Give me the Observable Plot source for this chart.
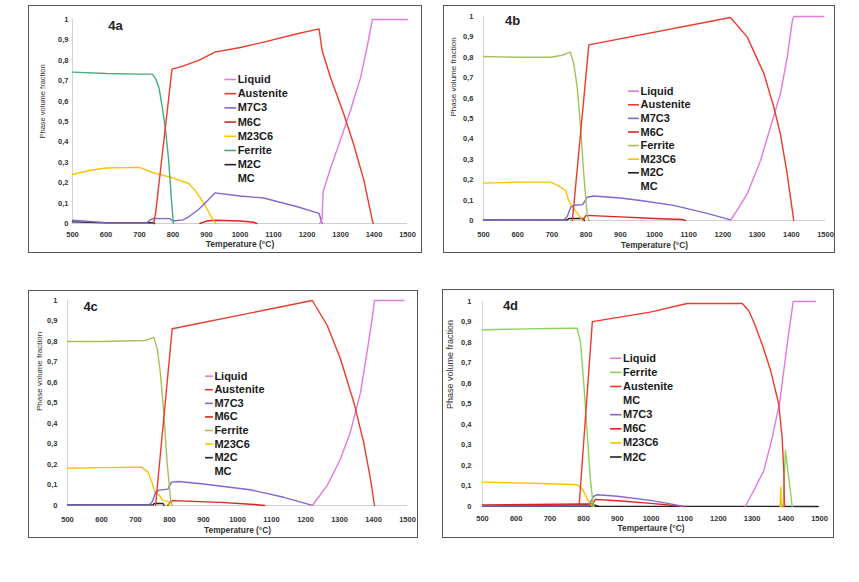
<!DOCTYPE html>
<html>
<head>
<meta charset="utf-8">
<script src="https://cdn.jsdelivr.net/npm/d3@7"></script>
<script src="https://cdn.jsdelivr.net/npm/@observablehq/plot@0.6"></script>
<style>
  body { margin: 0; background: #fff; }
  #page { position: relative; width: 859px; height: 582px; overflow: hidden; background: #fff; }
  #page svg { position: absolute; outline: 1.5px solid #555; }
</style>
</head>
<body>
<div id="page"></div>
<script>
// ---------- tick labels ----------
const xTicks = [500, 600, 700, 800, 900, 1000, 1100, 1200, 1300, 1400, 1500];
const xTickLabels = ["500", "600", "700", "800", "900", "1000", "1100", "1200", "1300", "1400", "1500"];
const yTicks = [0, 0.1, 0.2, 0.3, 0.4, 0.5, 0.6, 0.7, 0.8, 0.9, 1];
const yTickLabels = ["0", "0,1", "0,2", "0,3", "0,4", "0,5", "0,6", "0,7", "0,8", "0,9", "1"];

// ---------- panel 4a : [temperature °C, phase volume fraction] ----------
const a_liquid = [[1238,0],[1245,0.02],[1248,0.155],[1270,0.27],[1300,0.41],[1330,0.555],[1360,0.715],[1380,0.87],[1395,1.0],[1500,1.0]];
const a_austenite = [[742,0],[748,0.05],[797,0.757],[827,0.77],[877,0.80],[925,0.84],[1001,0.863],[1071,0.889],[1171,0.93],[1236,0.954],[1245,0.848],[1270,0.717],[1309,0.54],[1339,0.39],[1370,0.21],[1395,0.015],[1398,0]];
const a_m7c3 = [[500,0.016],[550,0.01],[600,0.004],[720,0.003],[740,0.025],[790,0.024],[800,0.012],[830,0.018],[847,0.033],[877,0.07],[902,0.11],[925,0.15],[1000,0.135],[1071,0.125],[1171,0.082],[1236,0.05],[1243,0.01],[1246,0]];
const a_m6c = [[880,0],[900,0.012],[925,0.016],[1000,0.012],[1040,0.006],[1050,0]];
const a_m23c6 = [[500,0.24],[550,0.26],[600,0.272],[700,0.275],[738,0.25],[797,0.225],[847,0.196],[867,0.16],[897,0.087],[912,0.038],[922,0.013],[928,0]];
const a_ferrite = [[500,0.742],[600,0.735],[700,0.732],[738,0.732],[748,0.71],[758,0.667],[768,0.57],[778,0.455],[787,0.31],[797,0.08],[801,0]];
const a_m2c = [[500,0.008],[600,0.004],[740,0.004],[745,0]];
const a_mc = [];

// ---------- panel 4b ----------
const b_liquid = [[1222,0],[1245,0.06],[1271,0.13],[1310,0.294],[1339,0.457],[1368,0.62],[1388,0.80],[1403,0.98],[1407,1.0],[1495,1.0]];
const b_austenite = [[760,0],[808,0.861],[1222,0.995],[1271,0.9],[1320,0.72],[1349,0.555],[1368,0.425],[1388,0.229],[1403,0.05],[1407,0]];
const b_m7c3 = [[500,0.002],[735,0.003],[745,0.02],[755,0.065],[765,0.075],[790,0.078],[803,0.114],[822,0.12],[900,0.11],[959,0.098],[1056,0.074],[1154,0.035],[1222,0.003]];
const b_m6c = [[790,0],[800,0.025],[900,0.018],[1000,0.01],[1080,0.005],[1090,0]];
const b_ferrite = [[500,0.804],[600,0.80],[696,0.80],[730,0.81],[754,0.825],[764,0.768],[774,0.654],[784,0.458],[793,0.229],[803,0.03],[808,0]];
const b_m23c6 = [[500,0.183],[600,0.188],[696,0.188],[720,0.17],[740,0.147],[749,0.1],[760,0.065],[775,0.035],[785,0.01],[790,0]];
const b_m2c = [[500,0.003],[745,0.003],[750,0.01],[790,0.01],[795,0]];
const b_mc = [];

// ---------- panel 4c ----------
const c_liquid = [[1220,0],[1264,0.098],[1303,0.228],[1332,0.358],[1362,0.553],[1381,0.748],[1396,0.91],[1403,1.0],[1490,1.0]];
const c_austenite = [[759,0],[808,0.862],[1220,1.0],[1264,0.878],[1303,0.715],[1342,0.504],[1371,0.309],[1391,0.13],[1403,0]];
const c_m7c3 = [[500,0.002],[740,0.003],[750,0.02],[759,0.065],[770,0.075],[795,0.08],[806,0.114],[826,0.117],[900,0.105],[1037,0.077],[1136,0.04],[1218,0.002]];
const c_m6c = [[795,0],[806,0.024],[950,0.015],[1050,0.005],[1080,0]];
const c_ferrite = [[500,0.80],[600,0.80],[729,0.805],[754,0.82],[764,0.764],[773,0.65],[783,0.455],[793,0.21],[803,0.03],[808,0]];
const c_m23c6 = [[500,0.182],[600,0.185],[717,0.187],[737,0.163],[747,0.12],[756,0.07],[770,0.05],[781,0.024],[797,0.02],[800,0]];
const c_m2c = [[500,0.003],[752,0.003],[755,0.01],[781,0.01],[784,0]];
const c_mc = [];

// ---------- panel 4d ----------
const d_liquid = [[1280,0],[1305,0.078],[1335,0.176],[1360,0.338],[1382,0.51],[1394,0.663],[1408,0.84],[1422,1.0],[1488,1.0]];
const d_ferrite = [[500,0.862],[600,0.865],[700,0.868],[781,0.87],[791,0.80],[801,0.59],[811,0.346],[820,0.135],[828,0.013],[831,0],[1100,null],[1392,0],[1399,0.273],[1419,0]];
const d_austenite = [[787,0.01],[826,0.902],[998,0.948],[1107,0.99],[1271,0.99],[1290,0.955],[1305,0.90],[1330,0.79],[1355,0.663],[1379,0.50],[1389,0.338],[1394,0.176],[1396,0]];
const d_mc = [];
const d_m7c3 = [[500,0.002],[815,0.003],[830,0.05],[840,0.057],[900,0.05],[998,0.03],[1050,0.015],[1097,0]];
const d_m6c = [[500,0.008],[790,0.012],[826,0.012],[835,0.035],[900,0.028],[1000,0.015],[1100,0]];
const d_m23c6 = [[500,0.119],[600,0.115],[700,0.111],[781,0.106],[796,0.086],[811,0.037],[820,0.013],[826,0],[1100,null],[1383,0],[1385,0.095],[1387,0]];
const d_m2c = [[500,0.002],[650,0.005],[830,0.008],[845,0.002],[1495,0]];

// ---------- legend orders ----------
const legend4a = ["Liquid", "Austenite", "M7C3", "M6C", "M23C6", "Ferrite", "M2C", "MC"];
const legend4b = ["Liquid", "Austenite", "M7C3", "M6C", "Ferrite", "M23C6", "M2C", "MC"];
const legend4c = ["Liquid", "Austenite", "M7C3", "M6C", "Ferrite", "M23C6", "M2C", "MC"];
const legend4d = ["Liquid", "Ferrite", "Austenite", "MC", "M7C3", "M6C", "M23C6", "M2C"];

// ---------- styles ----------
const baseColors = {Liquid: "#e07ade", Austenite: "#ee3a2a", M7C3: "#8466d2", M6C: "#d8261e", M23C6: "#ffc000", M2C: "#222222", MC: "none"};
const ferriteColors = {"4a": "#3fae7a", "4b": "#a3c05a", "4c": "#a3c05a", "4d": "#8ed05a"};
const FONT = "'Liberation Sans', Arial, sans-serif";

const panels = [
  {id: "4a", left: 29, top: 6, width: 392, height: 246, m: [13, 14, 29, 43],
   series: {Liquid: a_liquid, Austenite: a_austenite, M7C3: a_m7c3, M6C: a_m6c, M23C6: a_m23c6, Ferrite: a_ferrite, M2C: a_m2c, MC: a_mc},
   legend: legend4a, lx: 993, sx1: 955, sx2: 990, ly0: 0.706, lstep: 0.0696, lfont: 11,
   title: {x: 628, y: 0.97}, xTitle: "Temperature (°C)", xTitleDy: 23.5, xTitleSize: 8.5,
   yTitleDx: -30, yTitleDy: 17, yTitleSize: 7.5, xPad: 8.5, yPad: 4},
  {id: "4b", left: 444, top: 6, width: 390, height: 246, m: [10, 9, 32, 39],
   series: {Liquid: b_liquid, Austenite: b_austenite, M7C3: b_m7c3, M6C: b_m6c, M23C6: b_m23c6, Ferrite: b_ferrite, M2C: b_m2c, MC: b_mc},
   legend: legend4b, lx: 959, sx1: 924, sx2: 956, ly0: 0.634, lstep: 0.0667, lfont: 11,
   title: {x: 585, y: 0.98}, xTitle: "Temperature (°C)", xTitleDy: 27, xTitleSize: 8.3,
   yTitleDx: -30, yTitleDy: -2, yTitleSize: 8, xPad: 11, yPad: 10},
  {id: "4c", left: 29, top: 291, width: 388, height: 246, m: [9, 10, 32, 38],
   series: {Liquid: c_liquid, Austenite: c_austenite, M7C3: c_m7c3, M6C: c_m6c, M23C6: c_m23c6, Ferrite: c_ferrite, M2C: c_m2c, MC: c_mc},
   legend: legend4c, lx: 932, sx1: 906, sx2: 929, ly0: 0.631, lstep: 0.0663, lfont: 11,
   title: {x: 568, y: 0.967}, xTitle: "Temperature (°C)", xTitleDy: 27, xTitleSize: 8.3,
   yTitleDx: -28, yTitleDy: 8, yTitleSize: 8, xPad: 11, yPad: 10},
  {id: "4d", left: 443, top: 290, width: 390, height: 247, m: [11, 14, 31, 39],
   series: {Liquid: d_liquid, Austenite: d_austenite, M7C3: d_m7c3, M6C: d_m6c, M23C6: d_m23c6, Ferrite: d_ferrite, M2C: d_m2c, MC: d_mc},
   legend: legend4d, lx: 917, sx1: 880, sx2: 914, ly0: 0.723, lstep: 0.0688, lfont: 11,
   title: {x: 583, y: 0.98}, xTitle: "Tempertaure (°C)", xTitleDy: 24.5, xTitleSize: 8.3,
   yTitleDx: -32, yTitleDy: 5, yTitleSize: 9, xPad: 9.5, yPad: 11}
];

const drawOrder = ["M2C", "M6C", "M23C6", "M7C3", "Ferrite", "Liquid", "Austenite"];
const page = document.getElementById("page");

for (const p of panels) {
  const colors = {...baseColors, Ferrite: ferriteColors[p.id]};
  const marks = [
    Plot.ruleX([500], {stroke: "#d4d4d4", strokeWidth: 1}),
    Plot.ruleY([0], {stroke: p.id === "4d" ? "#333" : "#cfcfcf", strokeWidth: 1}),
    Plot.axisX({ticks: xTicks, tickFormat: d => xTickLabels[xTicks.indexOf(d)], tickSize: 0, tickPadding: p.xPad,
                fontSize: 7.5, fontWeight: "bold", fill: "#333", label: null}),
    Plot.axisY({ticks: yTicks, tickFormat: d => yTickLabels[yTicks.indexOf(d)], tickSize: 0, tickPadding: p.yPad,
                fontSize: 7.5, fontWeight: "bold", fill: "#333", label: null})
  ];
  for (const name of drawOrder) {
    const data = p.series[name];
    if (!data || !data.length) continue;
    marks.push(Plot.line(data, {x: d => d[0], y: d => d[1], stroke: colors[name], strokeWidth: 1.4}));
  }
  // legend
  const rows = p.legend.map((n, i) => ({name: n, y: p.ly0 - i * p.lstep}));
  for (const r of rows) {
    if (colors[r.name] !== "none") {
      marks.push(Plot.ruleY([r], {y: "y", x1: () => p.sx1, x2: () => p.sx2, stroke: colors[r.name], strokeWidth: 1.6}));
    }
  }
  marks.push(Plot.text(rows, {x: () => p.lx, y: "y", text: "name", textAnchor: "start", fontSize: p.lfont,
                              fontWeight: "bold", fill: "#1a1a1a", fontFamily: FONT}));
  // panel title
  marks.push(Plot.text([p.id], {x: () => p.title.x, y: () => p.title.y, text: d => d, fontSize: 13,
                                fontWeight: "bold", fill: "#222", fontFamily: FONT}));
  // axis titles
  marks.push(Plot.text([p.xTitle], {frameAnchor: "bottom", dy: p.xTitleDy, text: d => d, fontSize: p.xTitleSize,
                                    fontWeight: "bold", fill: "#333", fontFamily: FONT}));
  marks.push(Plot.text(["Phase volume fraction"], {frameAnchor: "left", rotate: -90, dx: p.yTitleDx, dy: p.yTitleDy,
                                    text: d => d, fontSize: p.yTitleSize, fontWeight: "normal", fill: "#333", fontFamily: FONT}));

  const svg = Plot.plot({
    width: p.width, height: p.height,
    marginTop: p.m[0], marginRight: p.m[1], marginBottom: p.m[2], marginLeft: p.m[3],
    x: {domain: [500, 1500]},
    y: {domain: [0, 1]},
    style: {fontFamily: FONT, fontSize: "7.5px", fontWeight: "bold", background: "#fff", color: "#333"},
    marks
  });
  svg.style.left = p.left + "px";
  svg.style.top = p.top + "px";
  svg.style.maxWidth = "none";
  page.appendChild(svg);
}
</script>
</body>
</html>
